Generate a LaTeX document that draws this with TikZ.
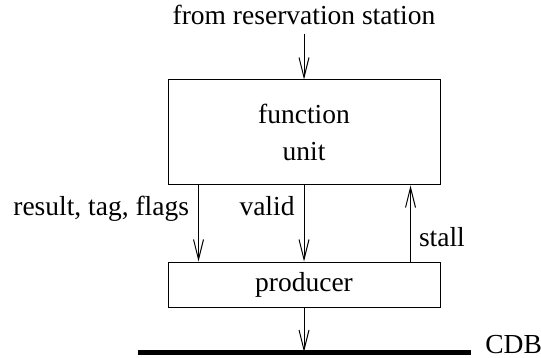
\documentclass[tikz,border=0pt]{standalone}
\usepackage{fontspec}
\setmainfont{Liberation Serif}
\usetikzlibrary{arrows.meta,positioning}

\begin{document}
\begin{tikzpicture}[
  x=0.5pt, y=-0.5pt,
  font=\fontsize{13.75}{18.5}\selectfont,
  unitbox/.style={draw, line width=0.5pt, minimum width=136pt, inner sep=0pt},
  sig/.style={line width=0.5pt, -{Straight Barb[length=10pt,width=5pt]}},
  lbl/.style={inner sep=0pt}
]
\useasboundingbox (0,0) rectangle (541,358);

% Boxes
\node[unitbox, minimum height=52.5pt, align=center] (fu) at (304,132.5) {function\\unit};
\node[unitbox, minimum height=22.5pt] (prod) at (304,284.5) {producer};

% Input from the reservation station
\node[anchor=base, inner sep=4pt] (src) at (304,25) {from reservation station};
\draw[sig] (src.south) -- (fu.north);

% Signals between the two boxes
\draw[sig] ([xshift=15.5pt]fu.south west) -- ([xshift=15.5pt]prod.north west)
  node[lbl, pos=0.4, anchor=base east, xshift=-4.5pt] {result, tag, flags};
\draw[sig] (fu.south) -- (prod.north)
  node[lbl, pos=0.4, anchor=base east, xshift=-4.5pt] {valid};
\draw[sig] ([xshift=-15pt]prod.north east) -- ([xshift=-15pt]fu.south east)
  node[lbl, pos=0.2, anchor=base west, xshift=4pt] {stall};

% Common data bus
\coordinate (cdbl) at (138,352);
\coordinate (cdbr) at (471,352);
\draw[line width=2.5pt] (cdbl) -- (cdbr);
\node[lbl, anchor=base west, xshift=7pt, yshift=-0.5pt] (cdb) at (cdbr) {CDB};
\draw[sig] (prod.south) -- (prod.south |- cdbl);

\end{tikzpicture}
\end{document}
